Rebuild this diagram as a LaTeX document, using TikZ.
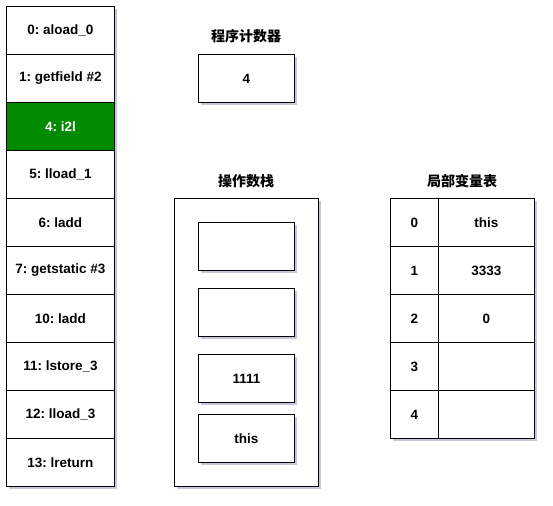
\documentclass[tikz,border=0pt]{standalone}
\usepackage{fontspec}
\setmainfont{Liberation Sans}
\newfontfamily\cjk{Noto Sans CJK SC}
\usetikzlibrary{shadows}
\frenchspacing
\definecolor{dgreen}{HTML}{008A00}
\definecolor{shcol}{HTML}{9EA3BF}
\newcommand{\tfont}{\bfseries\fontsize{13.5}{16}\selectfont\frenchspacing}
\begin{document}
\begin{tikzpicture}[x=1pt,y=-1pt,
  box/.style={draw=black, fill=white, line width=0.9pt, minimum width=#1, inner sep=0pt,
    drop shadow={shadow xshift=2.5pt, shadow yshift=-2.5pt, fill=shcol, opacity=0.6}},
  box/.default=96pt,
  cell/.style={draw=black, line width=0.9pt, minimum height=48pt, inner sep=0pt, font=\tfont},
  ttl/.style={font=\cjk\bfseries\fontsize{14}{16}\selectfont, inner sep=0pt}]
\useasboundingbox (0,0) rectangle (553,505);
% left column: shadow background
\node[box, minimum width=108pt, minimum height=480pt, anchor=north west] (col) at (6,6) {};
\foreach \i/\t in {0/{0: aload\_0},1/{1: getfield \#2},3/{5: lload\_1},4/{6: ladd},5/{7: getstatic \#3},6/{10: ladd},7/{11: lstore\_3},8/{12: lload\_3},9/{13: lreturn}}{
  \node[cell, minimum width=108pt, anchor=north west] (r\i) at (6,{6+48*\i}) {\t};
}
\node[cell, minimum width=108pt, anchor=north west, fill=dgreen, text=white] (r2) at (6,102) {4: i2l};
% program counter
\node[ttl] (pct) at (246,36) {程序计数器};
\node[box, minimum height=48pt, anchor=north west, font=\tfont] (pc) at (198,54) {4};
% operand stack
\node[ttl] (stt) at (246,181) {操作数栈};
\node[box, minimum width=144pt, minimum height=288pt, anchor=north west] (st) at (174,198) {};
\node[box, minimum height=48pt, anchor=north west] (s1) at (198,222) {};
\node[box, minimum height=48pt, anchor=north west] (s2) at (198,288) {};
\node[box, minimum height=48pt, anchor=north west, font=\tfont] (s3) at (198,354) {1111};
\node[box, minimum height=48pt, anchor=north west, font=\tfont] (s4) at (198,414) {this};
% local variable table
\node[ttl] (lvt) at (462,181) {局部变量表};
\node[box, minimum width=144pt, minimum height=240pt, anchor=north west] (lv) at (390,198) {};
\foreach \i/\a/\b in {0/0/this,1/1/3333,2/2/0,3/3/,4/4/}{
  \node[cell, minimum width=48pt, anchor=north west] (k\i) at (390,{198+48*\i}) {\a};
  \node[cell, minimum width=96pt, anchor=north west] (v\i) at (438,{198+48*\i}) {\b};
}
\end{tikzpicture}
\end{document}
